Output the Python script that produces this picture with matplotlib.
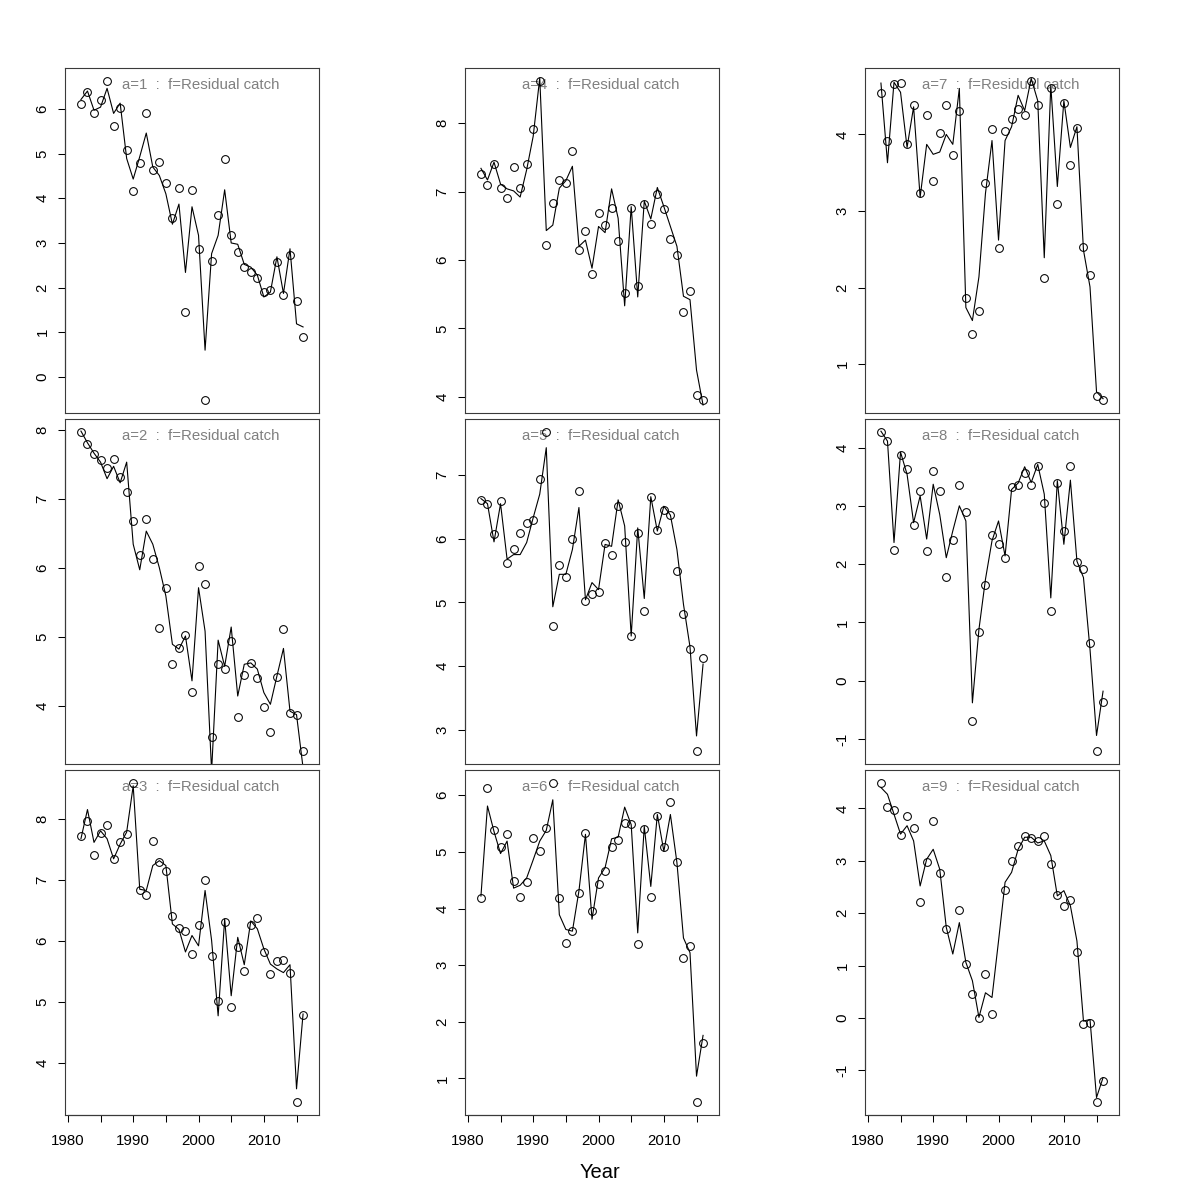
import numpy as np
import matplotlib
matplotlib.use("Agg")
import matplotlib.pyplot as plt

plt.rcParams['font.family'] = ['Liberation Sans', 'DejaVu Sans']
plt.rcParams['axes.unicode_minus'] = False

years = [1982, 1983, 1984, 1985, 1986, 1987, 1988, 1989, 1990, 1991, 1992, 1993,
         1994, 1995, 1996, 1997, 1998, 1999, 2000, 2001, 2002, 2003, 2004, 2005,
         2006, 2007, 2008, 2009, 2010, 2011, 2012, 2013, 2014, 2015, 2016]
nan = np.nan

obs1 = [6.10, 6.38, 5.90, 6.21, 6.63, 5.62, 6.01, 5.09, 4.17, 4.79, 5.91, 4.64, 4.81, 4.34, 3.55, 4.22, 1.45, 4.19,
        2.87, -0.52, 2.60, 3.63, 4.89, 3.17, 2.79, 2.46, 2.35, 2.21, 1.90, 1.94, 2.57, 1.83, 2.72, 1.70, 0.90]
fit1 = [6.21, 6.40, 5.97, 6.04, 6.46, 5.90, 6.13, 4.89, 4.43, 4.93, 5.46, 4.70, 4.51, 4.10, 3.42, 3.87, 2.34, 3.81,
        3.17, 0.60, 2.76, 3.17, 4.19, 3.00, 2.97, 2.52, 2.46, 2.28, 1.79, 1.90, 2.69, 1.87, 2.87, 1.19, 1.12]

obs2 = [7.97, 7.79, 7.65, 7.56, 7.45, 7.58, 7.32, 7.09, 6.68, 6.19, 6.70, 6.13, 5.13, 5.70, 4.61, 4.84, 5.02, 4.20,
        6.03, 5.77, 3.55, 4.60, 4.53, 4.94, 3.84, 4.45, 4.62, 4.40, 3.98, 3.62, 4.42, 5.11, 3.90, 3.87, 3.34]
fit2 = [7.98, 7.81, 7.66, 7.53, 7.29, 7.47, 7.23, 7.53, 6.34, 5.97, 6.53, 6.34, 6.00, 5.59, 4.89, 4.82, 5.01, 4.36,
        5.71, 5.08, 3.05, 4.95, 4.57, 5.14, 4.14, 4.60, 4.62, 4.53, 4.19, 4.02, 4.43, 4.83, 3.92, 3.87, 3.10]

obs3 = [7.73, 7.97, 7.41, 7.78, 7.91, 7.34, 7.63, 7.76, 8.60, 6.83, 6.75, 7.65, 7.29, 7.15, 6.41, 6.22, 6.16, 5.78,
        6.27, 7.00, 5.76, 5.01, 6.31, 4.92, 5.90, 5.51, 6.27, 6.37, 5.82, 5.45, 5.67, 5.68, 5.48, 3.35, 4.78]
fit3 = [7.68, 8.16, 7.62, 7.81, 7.68, 7.35, 7.59, 7.79, 8.55, 6.85, 6.83, 7.24, 7.32, 7.24, 6.28, 6.19, 5.82, 6.09,
        5.92, 6.83, 6.01, 4.77, 6.36, 5.10, 6.06, 5.61, 6.33, 6.20, 5.87, 5.62, 5.54, 5.48, 5.61, 3.57, 4.80]

obs4 = [7.26, 7.09, 7.41, 7.05, 6.90, 7.36, 7.05, 7.41, 7.91, 8.62, 6.22, 6.84, 7.17, 7.13, 7.60, 6.14, 6.43, 5.80,
        6.69, 6.51, 6.76, 6.28, 5.52, 6.76, 5.62, 6.82, 6.52, 6.96, 6.74, 6.31, 6.07, 5.24, 5.54, 4.02, 3.95]
fit4 = [7.34, 7.17, 7.43, 7.11, 7.04, 7.01, 6.92, 7.32, 7.81, 8.66, 6.43, 6.51, 7.05, 7.16, 7.37, 6.20, 6.29, 5.88,
        6.49, 6.40, 7.04, 6.61, 5.33, 6.78, 5.46, 6.86, 6.60, 7.06, 6.78, 6.49, 6.20, 5.47, 5.42, 4.39, 3.88]

obs5 = [6.61, 6.55, 6.08, 6.60, 5.62, 5.84, 6.09, 6.25, 6.29, 6.94, 7.68, 4.63, 5.58, 5.40, 6.00, 6.75, 5.02, 5.13,
        5.16, 5.94, 5.74, 6.52, 5.95, 4.47, 6.09, 4.87, 6.66, 6.14, 6.45, 6.37, 5.49, 4.81, 4.27, 2.66, 4.13]
fit5 = [6.63, 6.55, 5.95, 6.55, 5.68, 5.75, 5.75, 5.94, 6.33, 6.70, 7.43, 4.93, 5.44, 5.44, 5.83, 6.49, 5.04, 5.31,
        5.20, 5.91, 5.88, 6.61, 6.20, 4.47, 6.17, 5.06, 6.66, 6.12, 6.51, 6.37, 5.83, 4.97, 4.30, 2.90, 4.03]

obs6 = [4.18, 6.12, 5.39, 5.08, 5.31, 4.49, 4.21, 4.46, 5.24, 5.01, 5.42, 6.22, 4.19, 3.39, 3.60, 4.28, 5.33, 3.96,
        4.44, 4.66, 5.09, 5.21, 5.51, 5.49, 3.38, 5.41, 4.21, 5.63, 5.08, 5.88, 4.83, 3.13, 3.34, 0.58, 1.62]
fit6 = [4.22, 5.81, 5.36, 4.97, 5.19, 4.36, 4.41, 4.54, 4.86, 5.19, 5.38, 5.92, 3.89, 3.63, 3.60, 4.31, 5.31, 3.81,
        4.54, 4.72, 5.23, 5.26, 5.79, 5.48, 3.57, 5.45, 4.39, 5.66, 5.01, 5.66, 4.81, 3.48, 3.22, 1.04, 1.76]

obs7 = [4.54, 3.91, 4.66, 4.67, 3.87, 4.39, 3.24, 4.25, 3.39, 4.02, 4.38, 3.73, 4.31, 1.87, 1.39, 1.70, 3.36, 4.07,
        2.52, 4.04, 4.20, 4.33, 4.25, 4.70, 4.39, 2.12, 4.61, 3.09, 4.41, 3.60, 4.08, 2.53, 2.17, 0.59, 0.53]
fit7 = [4.67, 3.63, 4.68, 4.55, 3.83, 4.36, 3.18, 3.87, 3.74, 3.77, 4.00, 3.87, 4.60, 1.74, 1.57, 2.14, 3.23, 3.92,
        2.62, 3.92, 4.10, 4.51, 4.31, 4.73, 4.44, 2.39, 4.64, 3.32, 4.44, 3.83, 4.10, 2.49, 2.01, 0.64, 0.55]

obs8 = [4.27, 4.12, 2.24, 3.87, 3.63, 2.67, 3.26, 2.23, 3.59, 3.26, 1.78, 2.42, 3.35, 2.90, -0.70, 0.83, 1.64, 2.50,
        2.34, 2.11, 3.32, 3.36, 3.56, 3.35, 3.68, 3.04, 1.19, 3.39, 2.57, 3.68, 2.03, 1.92, 0.64, -1.21, -0.36]
fit8 = [4.28, 4.11, 2.37, 3.92, 3.54, 2.71, 3.17, 2.43, 3.37, 2.85, 2.11, 2.57, 3.00, 2.74, -0.38, 0.88, 1.74, 2.40,
        2.74, 2.14, 3.28, 3.39, 3.67, 3.40, 3.71, 3.20, 1.42, 3.43, 2.34, 3.44, 2.05, 1.77, 0.54, -0.94, -0.18]

obs9 = [4.49, 4.02, 3.97, 3.49, 3.85, 3.62, 2.22, 2.97, 3.76, 2.76, 1.69, nan, 2.06, 1.02, 0.46, -0.01, 0.83, 0.08,
        nan, 2.44, 3.00, 3.28, 3.48, 3.43, 3.37, 3.47, 2.93, 2.35, 2.13, 2.25, 1.25, -0.11, -0.10, -1.61, -1.20]
fit9 = [4.40, 4.27, 3.89, 3.51, 3.67, 3.38, 2.52, 3.03, 3.22, 2.84, 1.73, 1.22, 1.82, 1.06, 0.71, 0.01, 0.48, 0.39,
        1.47, 2.59, 2.78, 3.22, 3.45, 3.45, 3.34, 3.38, 3.10, 2.33, 2.43, 2.14, 1.47, -0.06, -0.03, -1.52, -1.14]

ages = [1, 2, 3, 4, 5, 6, 7, 8, 9]
observed = [obs1, obs2, obs3, obs4, obs5, obs6, obs7, obs8, obs9]
fitted = [fit1, fit2, fit3, fit4, fit5, fit6, fit7, fit8, fit9]
fleet = "Residual catch"
x_ticks = [1980, 1985, 1990, 1995, 2000, 2005, 2010, 2015]
x_ticklabels = ["1980", "", "1990", "", "2000", "", "2010", ""]

W = H = 1200.0
fig = plt.figure(figsize=(12, 12), dpi=100)
col_left = [65, 465, 865]
row_top = [68, 419, 770]
aw, ah = 254, 345

spine_col = "#3a3a3a"
tick_fs = 10.8

for i, age in enumerate(ages):
    col = i // 3
    row = i % 3
    l = col_left[col] / W
    b = 1 - (row_top[row] + ah) / H
    ax = fig.add_axes([l, b, aw / W, ah / H])
    yrs = np.array(years, dtype=float)
    o = np.array(observed[i], dtype=float)
    f = np.array(fitted[i], dtype=float)
    ax.plot(yrs, f, color="black", lw=0.8, zorder=2)
    ax.plot(yrs, o, linestyle="none", marker="o", markersize=5.6, mfc="none",
            mec="black", mew=0.75, zorder=3)
    # R-style 4% axis extension (x range spans one year either side of the data)
    xa, xb = yrs.min() - 1, yrs.max() + 1
    xr = xb - xa
    ax.set_xlim(xa - 0.04 * xr, xb + 0.04 * xr)
    omin, omax = np.nanmin(o), np.nanmax(o)
    yr = omax - omin
    y0, y1 = omin - 0.04 * yr, omax + 0.04 * yr
    ax.set_ylim(y0, y1)

    yt = np.arange(np.ceil(y0), np.floor(y1) + 1)
    ax.set_yticks(yt)
    ax.set_yticklabels([str(int(v)) for v in yt])
    ax.tick_params(axis="y", direction="out", length=5, width=0.75, pad=6,
                   labelsize=tick_fs, colors="black")
    for lab in ax.get_yticklabels():
        lab.set_rotation(90)
        lab.set_va("center")
    ax.plot([0, 0], [yt[0], yt[-1]], color="black", lw=0.8,
            transform=ax.get_yaxis_transform(), clip_on=False)

    if row == 2:
        ax.set_xticks(x_ticks)
        ax.set_xticklabels(x_ticklabels)
        ax.tick_params(axis="x", direction="out", length=5, width=0.75, pad=9,
                       labelsize=tick_fs, colors="black")
        ax.plot([x_ticks[0], x_ticks[-1]], [0, 0], color="black", lw=0.8,
                transform=ax.get_xaxis_transform(), clip_on=False)
    else:
        ax.set_xticks([])

    for s in ax.spines.values():
        s.set_color(spine_col)
        s.set_linewidth(0.8)

    ax.text(0.533, 0.951, "a=%d  :  f=%s" % (age, fleet), transform=ax.transAxes,
            ha="center", va="center", color="#808080", fontsize=10.8, zorder=1)

fig.text(0.5, 1 - 1172 / H, "Year", ha="center", va="center", fontsize=14.5)

fig.savefig("out.png", dpi=100, facecolor="white")
